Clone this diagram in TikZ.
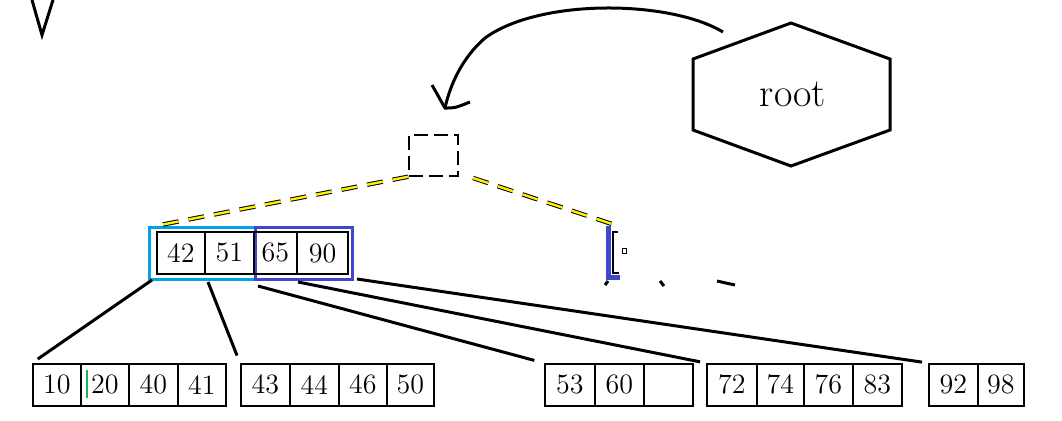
\documentclass[tikz,border=0pt]{standalone}
\usepackage{tikz}
\usetikzlibrary{positioning}
\definecolor{paintblue}{HTML}{3F48CC}
\definecolor{skyblue}{HTML}{00A2E8}
\definecolor{paintyellow}{HTML}{FFF200}
\definecolor{paintgreen}{HTML}{22B14C}
\tikzset{
  cell/.style={draw, line width=0.8pt, minimum width=#1, minimum height=21pt, inner sep=0pt,
    anchor=north west, font=\fontsize{14}{16}\selectfont},
  link/.style={line width=1.5pt},
  halfbox/.style={draw=#1, line width=1.6pt, minimum height=26pt, inner sep=0pt, anchor=north west}
}

\begin{document}
\begin{tikzpicture}[x=0.5pt,y=-0.5pt]
\useasboundingbox (0,0) rectangle (1062,420);
% cut-off arrow tip at the top left
\draw [line width=1.5pt] (32,0) -- (42,35) -- (53,0);
% root pointer
\node (root) at (793,94) {\fontsize{20}{22}\selectfont root};
\draw [line width=1.5pt] (693,59) -- (791,23) -- (890,59) -- (890,130) -- (791,166) -- (693,130) -- cycle;
\coordinate (tail) at (723,32);
\coordinate (tip) at (445,108);
\draw [line width=1.5pt] (tail) .. controls (670,0) and (540,-2) .. (485,38) .. controls (462,58) and (450,85) .. (tip);
\draw [line width=1.5pt] (432,85) -- (tip) .. controls (455,108) .. (470,102);
% empty root slot
\node [draw, dashed, dash pattern=on 7pt off 3pt, line width=0.7pt, minimum width=24.5pt, minimum height=20.5pt, inner sep=0pt] (slot) at (433.5,155.5) {};
% left internal node
\node [halfbox=skyblue, minimum width=53pt] (lefthalf) at (148,226) {};
\node [halfbox=paintblue, minimum width=48.5pt] (righthalf) at (254,226) {};
\node [cell=24pt] (k42) at (156,231) {42};
\node [cell=24.5pt] (k51) at (204,231) {51};
\node [cell=21.5pt] (k65) at (253,231) {65};
\node [cell=25.5pt, line width=1pt] (k90) at (296,231) {90};
% right internal node, half drawn
\draw [paintblue, line width=2.5pt] (608,226) -- (608,277) -- (620,277);
\draw [line width=1pt] (618,232) -- (613,232) -- (613,273) -- (619,273);
\draw [line width=0.5pt] (622,248) rectangle (626,253);
\draw [link] (605,285) -- (608,281);
\draw [link] (660,281) -- (664,286);
\draw [link] (717,281) -- (735,285);
% yellow dashed links from the slot
\coordinate (ly) at (155,226);
\coordinate (ry) at (612,224);
\coordinate (sr) at (473,178);
\draw [line width=2.2pt, dash pattern=on 8pt off 5pt] (slot.south west) -- (ly);
\draw [paintyellow, line width=1.2pt, dash pattern=on 8pt off 5pt] (slot.south west) -- (ly);
\draw [line width=2.2pt, dash pattern=on 8pt off 5pt] (sr) -- (ry);
\draw [paintyellow, line width=1.2pt, dash pattern=on 8pt off 5pt] (sr) -- (ry);
% leaves
\node [cell=24pt] (a10) at (32,363) {10};
\node [cell=24pt] (a20) at (80,363) {20};
\node [cell=24.5pt] (a40) at (128,363) {40};
\node [cell=24pt] (a41) at (177,363) {41};
\draw [paintgreen, line width=1pt] (87,370) -- (87,398);
\node [cell=24.5pt] (b43) at (240,363) {43};
\node [cell=24.5pt] (b44) at (289,363) {44};
\node [cell=24pt] (b46) at (338,363) {46};
\node [cell=23.5pt] (b50) at (386,363) {50};
\node [cell=25pt] (c53) at (544,363) {53};
\node [cell=24.5pt] (c60) at (594,363) {60};
\node [cell=24.5pt] (c00) at (643,363) {};
\node [cell=25pt] (d72) at (706,363) {72};
\node [cell=23.5pt] (d74) at (756,363) {74};
\node [cell=24.5pt] (d76) at (803,363) {76};
\node [cell=24.5pt] (d83) at (852,363) {83};
\node [cell=24.5pt] (e92) at (928,363) {92};
\node [cell=23pt] (e98) at (977,363) {98};
% child pointers
\coordinate (s1) at (152,280);
\coordinate (s2) at (208,282);
\coordinate (s3) at (258,286);
\coordinate (s4) at (298,282);
\coordinate (s5) at (357,279);
\draw [link, shorten >=3.5pt] (s1) -- (a10.north west);
\draw [link, shorten >=4pt] (s2) -- (b43.north west);
\draw [link, shorten >=5pt] (s3) -- (c53.north west);
\draw [link, shorten >=3pt] (s4) -- (d72.north west);
\draw [link, shorten >=3pt] (s5) -- (e92.north west);
\end{tikzpicture}
\end{document}
